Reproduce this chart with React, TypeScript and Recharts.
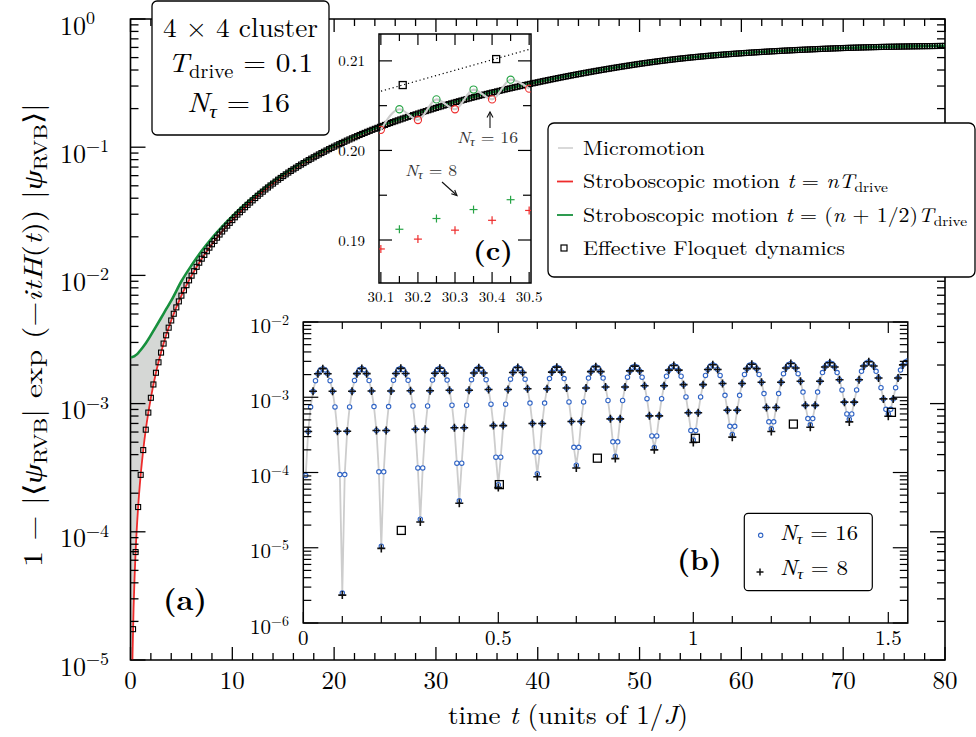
import React from 'react';
import { ComposedChart, Line, Area, Scatter, XAxis, YAxis, ReferenceArea } from 'recharts';

const FONT = "'Latin Modern Roman','CMU Serif','Liberation Serif','Times New Roman',serif";
const RED = '#ee2b2b';
const GREEN = '#17903d';
const GREEN_C = '#27a446';
const BLUE = '#2f63c4';
const GRAY_LINE = '#cdcdcd';
const GRAY_FILL = '#d5d7d5';

// ---------------- main panel (a) data ----------------
const floquetTimes = [
  0.25,0.5,0.75,1,1.25,1.5,1.75,2,2.25,2.5,2.75,3,3.25,3.5,3.75,4,4.25,4.5,4.75,5,
  5.25,5.5,5.75,6,6.25,6.5,6.75,7,7.25,7.5,7.75,8,8.25,8.5,8.75,9,9.25,9.5,9.75,10,
  10.25,10.5,10.75,11,11.25,11.5,11.75,12,12.25,12.5,12.75,13,13.25,13.5,13.75,14,14.25,14.5,14.75,15,
  15.25,15.5,15.75,16,16.25,16.5,16.75,17,17.25,17.5,17.75,18,18.25,18.5,18.75,19,19.25,19.5,19.75,20,
  20.25,20.5,20.75,21,21.25,21.5,21.75,22,22.25,22.5,22.75,23,23.25,23.5,23.75,24,24.25,24.5,24.75,25,
  25.25,25.5,25.75,26,26.25,26.5,26.75,27,27.25,27.5,27.75,28,28.25,28.5,28.75,29,29.25,29.5,29.75,30,
  30.25,30.5,30.75,31,31.25,31.5,31.75,32,32.25,32.5,32.75,33,33.25,33.5,33.75,34,34.25,34.5,34.75,35,
  35.25,35.5,35.75,36,36.25,36.5,36.75,37,37.25,37.5,37.75,38,38.25,38.5,38.75,39,39.25,39.5,39.75,40,
  40.25,40.5,40.75,41,41.25,41.5,41.75,42,42.25,42.5,42.75,43,43.25,43.5,43.75,44,44.25,44.5,44.75,45,
  45.25,45.5,45.75,46,46.25,46.5,46.75,47,47.25,47.5,47.75,48,48.25,48.5,48.75,49,49.25,49.5,49.75,50,
  50.25,50.5,50.75,51,51.25,51.5,51.75,52,52.25,52.5,52.75,53,53.25,53.5,53.75,54,54.25,54.5,54.75,55,
  55.25,55.5,55.75,56,56.25,56.5,56.75,57,57.25,57.5,57.75,58,58.25,58.5,58.75,59,59.25,59.5,59.75,60,
  60.25,60.5,60.75,61,61.25,61.5,61.75,62,62.25,62.5,62.75,63,63.25,63.5,63.75,64,64.25,64.5,64.75,65,
  65.25,65.5,65.75,66,66.25,66.5,66.75,67,67.25,67.5,67.75,68,68.25,68.5,68.75,69,69.25,69.5,69.75,70,
  70.25,70.5,70.75,71,71.25,71.5,71.75,72,72.25,72.5,72.75,73,73.25,73.5,73.75,74,74.25,74.5,74.75,75,
  75.25,75.5,75.75,76,76.25,76.5,76.75,77,77.25,77.5,77.75,78,78.25,78.5,78.75,79,79.25,79.5,79.75,80,
];
const floquetValues = [
  1.74e-5,6.95e-5,1.56e-4,2.78e-4,4.34e-4,6.26e-4,8.51e-4,1.11e-3,1.41e-3,1.74e-3,2.10e-3,2.50e-3,2.94e-3,3.41e-3,3.91e-3,4.45e-3,5.02e-3,5.63e-3,6.27e-3,6.95e-3,
  7.65e-3,8.39e-3,9.15e-3,9.95e-3,1.079e-2,1.166e-2,1.256e-2,1.35e-2,1.445e-2,1.544e-2,1.646e-2,1.75e-2,1.858e-2,1.969e-2,2.083e-2,2.2e-2,2.32e-2,2.444e-2,2.57e-2,2.7e-2,
  0.0284,0.0298,0.0311,0.0325,0.0340,0.0355,0.0370,0.0385,0.0401,0.0418,0.0434,0.0450,0.0468,0.0485,0.0503,0.0520,0.0539,0.0558,0.0576,0.0595,
  0.0614,0.0634,0.0653,0.0672,0.0692,0.0712,0.0732,0.0752,0.0773,0.0794,0.0814,0.0835,0.0857,0.0878,0.0900,0.0921,0.0943,0.0966,0.0988,0.1010,
  0.1033,0.1056,0.1079,0.1102,0.1126,0.1149,0.1173,0.1196,0.1220,0.1245,0.1269,0.1293,0.1318,0.1342,0.1367,0.1391,0.1416,0.1442,0.1467,0.1492,
  0.1518,0.1543,0.1569,0.1594,0.1620,0.1646,0.1672,0.1698,0.1725,0.1751,0.1778,0.1804,0.1831,0.1859,0.1886,0.1913,0.1941,0.1969,0.1997,0.2025,
  0.2054,0.2082,0.2111,0.2139,0.2168,0.2197,0.2225,0.2254,0.2283,0.2312,0.2341,0.2370,0.2399,0.2429,0.2458,0.2487,0.2517,0.2546,0.2576,0.2605,
  0.2635,0.2665,0.2694,0.2724,0.2754,0.2784,0.2814,0.2844,0.2874,0.2905,0.2935,0.2965,0.2996,0.3026,0.3057,0.3087,0.3118,0.3149,0.3179,0.3210,
  0.3242,0.3273,0.3305,0.3336,0.3368,0.3400,0.3431,0.3463,0.3495,0.3527,0.3558,0.3590,0.3622,0.3654,0.3685,0.3717,0.3749,0.3781,0.3812,0.3844,
  0.3876,0.3907,0.3939,0.3970,0.4002,0.4033,0.4065,0.4096,0.4127,0.4159,0.4190,0.4221,0.4252,0.4283,0.4314,0.4345,0.4376,0.4407,0.4437,0.4468,
  0.4498,0.4527,0.4557,0.4586,0.4614,0.4643,0.4671,0.4699,0.4726,0.4753,0.4780,0.4807,0.4833,0.4858,0.4884,0.4909,0.4933,0.4957,0.4981,0.5005,
  0.5028,0.5050,0.5073,0.5095,0.5116,0.5138,0.5159,0.5180,0.5200,0.5220,0.5240,0.5260,0.5279,0.5298,0.5316,0.5335,0.5353,0.5370,0.5388,0.5405,
  0.5422,0.5438,0.5455,0.5471,0.5487,0.5503,0.5518,0.5534,0.5549,0.5564,0.5579,0.5594,0.5608,0.5623,0.5637,0.5651,0.5665,0.5678,0.5692,0.5705,
  0.5718,0.5731,0.5743,0.5756,0.5768,0.5780,0.5792,0.5804,0.5816,0.5827,0.5839,0.5850,0.5861,0.5872,0.5883,0.5894,0.5905,0.5915,0.5926,0.5936,
  0.5945,0.5954,0.5963,0.5972,0.5980,0.5988,0.5996,0.6004,0.6011,0.6019,0.6026,0.6033,0.6040,0.6046,0.6053,0.6059,0.6065,0.6071,0.6076,0.6082,
  0.6087,0.6093,0.6098,0.6103,0.6108,0.6113,0.6117,0.6122,0.6126,0.6131,0.6135,0.6139,0.6143,0.6147,0.6151,0.6155,0.6159,0.6163,0.6166,0.6170,
];

const envTimes = [0.02,0.05,0.1,0.15,0.2,0.3,0.4,0.5,0.75,1,1.25,1.5,2,2.5,3,3.5,4,5,6,7,8,9,10,12,14,16,18,20,25,30,35,40,45,50,55,60,65,70,75,80];
const stroboNT = [1.1e-7,6.9e-7,2.75e-6,6.2e-6,1.1e-5,2.5e-5,4.4e-5,6.95e-5,1.56e-4,2.78e-4,4.34e-4,6.26e-4,1.11e-3,1.74e-3,2.5e-3,3.41e-3,4.45e-3,6.95e-3,9.95e-3,1.35e-2,1.75e-2,2.2e-2,2.7e-2,3.85e-2,5.2e-2,6.72e-2,8.35e-2,0.101,0.1492,0.2025,0.2605,0.321,0.3844,0.4468,0.5005,0.5405,0.5705,0.5936,0.6082,0.617];
const stroboHalf = [2.3e-3,2.3e-3,2.3e-3,2.31e-3,2.31e-3,2.33e-3,2.35e-3,2.38e-3,2.48e-3,2.62e-3,2.78e-3,2.96e-3,3.42e-3,3.98e-3,4.65e-3,5.45e-3,6.35e-3,9.0e-3,1.2e-2,1.555e-2,1.955e-2,2.4e-2,2.9e-2,4.05e-2,5.4e-2,6.91e-2,8.53e-2,0.1028,0.151,0.2043,0.262,0.3223,0.3855,0.4477,0.5012,0.5411,0.571,0.594,0.6085,0.6173];

const mainXTicks = [0,2,4,6,8,10,12,14,16,18,20,22,24,26,28,30,32,34,36,38,40,42,44,46,48,50,52,54,56,58,60,62,64,66,68,70,72,74,76,78,80];
const mainYTicks = [
  1e-5,2e-5,3e-5,4e-5,5e-5,6e-5,7e-5,8e-5,9e-5,
  1e-4,2e-4,3e-4,4e-4,5e-4,6e-4,7e-4,8e-4,9e-4,
  1e-3,2e-3,3e-3,4e-3,5e-3,6e-3,7e-3,8e-3,9e-3,
  1e-2,2e-2,3e-2,4e-2,5e-2,6e-2,7e-2,8e-2,9e-2,
  0.1,0.2,0.3,0.4,0.5,0.6,0.7,0.8,0.9,1,
];

// ---------------- inset (b) data ----------------
const bCircleTimes = [
  0.00625,0.0125,0.01875,0.025,0.03125,0.0375,0.04375,0.05,0.05625,0.0625,0.06875,0.075,0.08125,0.0875,0.09375,
  0.1,0.10625,0.1125,0.11875,0.125,0.13125,0.1375,0.14375,0.15,0.15625,0.1625,0.16875,0.175,0.18125,0.1875,0.19375,
  0.2,0.20625,0.2125,0.21875,0.225,0.23125,0.2375,0.24375,0.25,0.25625,0.2625,0.26875,0.275,0.28125,0.2875,0.29375,
  0.3,0.30625,0.3125,0.31875,0.325,0.33125,0.3375,0.34375,0.35,0.35625,0.3625,0.36875,0.375,0.38125,0.3875,0.39375,
  0.4,0.40625,0.4125,0.41875,0.425,0.43125,0.4375,0.44375,0.45,0.45625,0.4625,0.46875,0.475,0.48125,0.4875,0.49375,
  0.5,0.50625,0.5125,0.51875,0.525,0.53125,0.5375,0.54375,0.55,0.55625,0.5625,0.56875,0.575,0.58125,0.5875,0.59375,
  0.6,0.60625,0.6125,0.61875,0.625,0.63125,0.6375,0.64375,0.65,0.65625,0.6625,0.66875,0.675,0.68125,0.6875,0.69375,
  0.7,0.70625,0.7125,0.71875,0.725,0.73125,0.7375,0.74375,0.75,0.75625,0.7625,0.76875,0.775,0.78125,0.7875,0.79375,
  0.8,0.80625,0.8125,0.81875,0.825,0.83125,0.8375,0.84375,0.85,0.85625,0.8625,0.86875,0.875,0.88125,0.8875,0.89375,
  0.9,0.90625,0.9125,0.91875,0.925,0.93125,0.9375,0.94375,0.95,0.95625,0.9625,0.96875,0.975,0.98125,0.9875,0.99375,
  1,1.00625,1.0125,1.01875,1.025,1.03125,1.0375,1.04375,1.05,1.05625,1.0625,1.06875,1.075,1.08125,1.0875,1.09375,
  1.1,1.10625,1.1125,1.11875,1.125,1.13125,1.1375,1.14375,1.15,1.15625,1.1625,1.16875,1.175,1.18125,1.1875,1.19375,
  1.2,1.20625,1.2125,1.21875,1.225,1.23125,1.2375,1.24375,1.25,1.25625,1.2625,1.26875,1.275,1.28125,1.2875,1.29375,
  1.3,1.30625,1.3125,1.31875,1.325,1.33125,1.3375,1.34375,1.35,1.35625,1.3625,1.36875,1.375,1.38125,1.3875,1.39375,
  1.4,1.40625,1.4125,1.41875,1.425,1.43125,1.4375,1.44375,1.45,1.45625,1.4625,1.46875,1.475,1.48125,1.4875,1.49375,
  1.5,1.50625,1.5125,1.51875,1.525,1.53125,1.5375,1.54375,1.55,
];
const bCircleValues = [
  9.1e-5,3.51e-4,7.41e-4,1.20e-3,1.66e-3,2.05e-3,2.31e-3,2.40e-3,2.31e-3,2.05e-3,1.66e-3,1.20e-3,7.44e-4,3.54e-4,9.39e-5,
  2.5e-6,9.39e-5,3.54e-4,7.44e-4,1.20e-3,1.67e-3,2.06e-3,2.32e-3,2.41e-3,2.32e-3,2.06e-3,1.67e-3,1.21e-3,7.52e-4,3.62e-4,1.02e-4,
  1.05e-5,1.02e-4,3.62e-4,7.52e-4,1.21e-3,1.68e-3,2.07e-3,2.33e-3,2.42e-3,2.33e-3,2.07e-3,1.68e-3,1.22e-3,7.65e-4,3.75e-4,1.15e-4,
  2.4e-5,1.15e-4,3.75e-4,7.65e-4,1.22e-3,1.69e-3,2.08e-3,2.34e-3,2.43e-3,2.34e-3,2.08e-3,1.69e-3,1.24e-3,7.83e-4,3.93e-4,1.33e-4,
  4.2e-5,1.33e-4,3.93e-4,7.83e-4,1.24e-3,1.71e-3,2.10e-3,2.36e-3,2.46e-3,2.36e-3,2.10e-3,1.71e-3,1.27e-3,8.10e-4,4.20e-4,1.60e-4,
  6.9e-5,1.60e-4,4.20e-4,8.10e-4,1.27e-3,1.74e-3,2.13e-3,2.39e-3,2.48e-3,2.39e-3,2.13e-3,1.74e-3,1.30e-3,8.37e-4,4.47e-4,1.87e-4,
  9.6e-5,1.87e-4,4.47e-4,8.37e-4,1.30e-3,1.77e-3,2.16e-3,2.42e-3,2.51e-3,2.42e-3,2.16e-3,1.77e-3,1.33e-3,8.66e-4,4.76e-4,2.16e-4,
  1.25e-4,2.16e-4,4.76e-4,8.66e-4,1.33e-3,1.80e-3,2.19e-3,2.45e-3,2.55e-3,2.45e-3,2.19e-3,1.80e-3,1.37e-3,9.06e-4,5.16e-4,2.56e-4,
  1.65e-4,2.56e-4,5.16e-4,9.06e-4,1.37e-3,1.85e-3,2.24e-3,2.50e-3,2.59e-3,2.50e-3,2.24e-3,1.85e-3,1.42e-3,9.56e-4,5.66e-4,3.06e-4,
  2.15e-4,3.06e-4,5.66e-4,9.56e-4,1.42e-3,1.90e-3,2.29e-3,2.55e-3,2.64e-3,2.55e-3,2.29e-3,1.90e-3,1.47e-3,1.01e-3,6.21e-4,3.61e-4,
  2.7e-4,3.61e-4,6.21e-4,1.01e-3,1.47e-3,1.95e-3,2.34e-3,2.60e-3,2.70e-3,2.60e-3,2.34e-3,1.95e-3,1.52e-3,1.06e-3,6.71e-4,4.11e-4,
  3.2e-4,4.11e-4,6.71e-4,1.06e-3,1.52e-3,2.01e-3,2.40e-3,2.66e-3,2.75e-3,2.66e-3,2.40e-3,2.01e-3,1.58e-3,1.12e-3,7.31e-4,4.71e-4,
  3.8e-4,4.71e-4,7.31e-4,1.12e-3,1.58e-3,2.06e-3,2.45e-3,2.71e-3,2.81e-3,2.71e-3,2.45e-3,2.06e-3,1.63e-3,1.17e-3,7.81e-4,5.21e-4,
  4.3e-4,5.21e-4,7.81e-4,1.17e-3,1.63e-3,2.13e-3,2.52e-3,2.78e-3,2.87e-3,2.78e-3,2.52e-3,2.13e-3,1.71e-3,1.25e-3,8.61e-4,6.01e-4,
  5.1e-4,6.01e-4,8.61e-4,1.25e-3,1.71e-3,2.21e-3,2.60e-3,2.86e-3,2.96e-3,2.86e-3,2.60e-3,2.21e-3,1.80e-3,1.34e-3,9.51e-4,6.91e-4,
  6.0e-4,6.91e-4,9.51e-4,1.34e-3,1.80e-3,2.30e-3,2.69e-3,2.95e-3,3.05e-3,
];
const bCrossTimes = [
  0.0125,0.025,0.0375,0.05,0.0625,0.075,0.0875,
  0.1,0.1125,0.125,0.1375,0.15,0.1625,0.175,0.1875,
  0.2,0.2125,0.225,0.2375,0.25,0.2625,0.275,0.2875,
  0.3,0.3125,0.325,0.3375,0.35,0.3625,0.375,0.3875,
  0.4,0.4125,0.425,0.4375,0.45,0.4625,0.475,0.4875,
  0.5,0.5125,0.525,0.5375,0.55,0.5625,0.575,0.5875,
  0.6,0.6125,0.625,0.6375,0.65,0.6625,0.675,0.6875,
  0.7,0.7125,0.725,0.7375,0.75,0.7625,0.775,0.7875,
  0.8,0.8125,0.825,0.8375,0.85,0.8625,0.875,0.8875,
  0.9,0.9125,0.925,0.9375,0.95,0.9625,0.975,0.9875,
  1,1.0125,1.025,1.0375,1.05,1.0625,1.075,1.0875,
  1.1,1.1125,1.125,1.1375,1.15,1.1625,1.175,1.1875,
  1.2,1.2125,1.225,1.2375,1.25,1.2625,1.275,1.2875,
  1.3,1.3125,1.325,1.3375,1.35,1.3625,1.375,1.3875,
  1.4,1.4125,1.425,1.4375,1.45,1.4625,1.475,1.4875,
  1.5,1.5125,1.525,1.5375,1.55,
];
const bCrossValues = [
  3.51e-4,1.20e-3,2.05e-3,2.40e-3,2.05e-3,1.20e-3,3.54e-4,
  2.35e-6,3.54e-4,1.20e-3,2.06e-3,2.41e-3,2.06e-3,1.21e-3,3.62e-4,
  9.8e-6,3.62e-4,1.21e-3,2.07e-3,2.42e-3,2.07e-3,1.22e-3,3.75e-4,
  2.2e-5,3.75e-4,1.22e-3,2.08e-3,2.43e-3,2.08e-3,1.24e-3,3.93e-4,
  3.9e-5,3.93e-4,1.24e-3,2.10e-3,2.46e-3,2.10e-3,1.27e-3,4.20e-4,
  6.3e-5,4.20e-4,1.27e-3,2.13e-3,2.48e-3,2.13e-3,1.30e-3,4.47e-4,
  8.8e-5,4.47e-4,1.30e-3,2.16e-3,2.51e-3,2.16e-3,1.33e-3,4.76e-4,
  1.15e-4,4.76e-4,1.33e-3,2.19e-3,2.55e-3,2.19e-3,1.37e-3,5.16e-4,
  1.53e-4,5.16e-4,1.37e-3,2.24e-3,2.59e-3,2.24e-3,1.42e-3,5.66e-4,
  2.0e-4,5.66e-4,1.42e-3,2.29e-3,2.64e-3,2.29e-3,1.47e-3,6.21e-4,
  2.5e-4,6.21e-4,1.47e-3,2.34e-3,2.70e-3,2.34e-3,1.52e-3,6.71e-4,
  2.95e-4,6.71e-4,1.52e-3,2.40e-3,2.75e-3,2.40e-3,1.58e-3,7.31e-4,
  3.5e-4,7.31e-4,1.58e-3,2.45e-3,2.81e-3,2.45e-3,1.63e-3,7.81e-4,
  4.0e-4,7.81e-4,1.63e-3,2.52e-3,2.87e-3,2.52e-3,1.71e-3,8.61e-4,
  4.7e-4,8.61e-4,1.71e-3,2.60e-3,2.96e-3,2.60e-3,1.80e-3,9.51e-4,
  5.6e-4,9.51e-4,1.80e-3,2.69e-3,3.05e-3,
];
const bFloquetTimes = [0.2513,0.5027,0.754,1.0053,1.2566,1.508];
const bFloquetValues = [1.7e-5,6.9e-5,1.55e-4,2.85e-4,4.4e-4,6.3e-4];
const bXTicks = [0,0.1,0.2,0.3,0.4,0.5,0.6,0.7,0.8,0.9,1,1.1,1.2,1.3,1.4,1.5];
const bYTicks = [
  1e-6,2e-6,3e-6,4e-6,5e-6,6e-6,7e-6,8e-6,9e-6,
  1e-5,2e-5,3e-5,4e-5,5e-5,6e-5,7e-5,8e-5,9e-5,
  1e-4,2e-4,3e-4,4e-4,5e-4,6e-4,7e-4,8e-4,9e-4,
  1e-3,2e-3,3e-3,4e-3,5e-3,6e-3,7e-3,8e-3,9e-3,1e-2,
];

// ---------------- inset (c) data ----------------
const cRed16T = [30.1,30.2,30.3,30.4,30.5];
const cRed16V = [0.2023,0.2034,0.2046,0.2057,0.2069];
const cGreen16T = [30.15,30.25,30.35,30.45];
const cGreen16V = [0.2046,0.2057,0.2068,0.2079];
const cRed8T = [30.1,30.2,30.3,30.4,30.5];
const cRed8V = [0.1890,0.1901,0.1911,0.1922,0.1933];
const cGreen8T = [30.15,30.25,30.35,30.45];
const cGreen8V = [0.1912,0.1924,0.1934,0.1945];
const cFloquetT = [30.159,30.411];
const cFloquetV = [0.2073,0.2102];
const cFloquetLineT = [30.09,30.51];
const cFloquetLineV = [0.2065,0.2114];
const cXTicks = [30.1,30.15,30.2,30.25,30.3,30.35,30.4,30.45,30.5];
const cYTicks = [0.19,0.195,0.2,0.205,0.21];

// ---------------- helpers ----------------
const rows = (ts: number[], vs: number[]) => ts.map((t, i) => ({ t, v: vs[i] }));

const squareShape = (size: number, sw: number) => (p: any) => (
  <rect x={p.cx - size / 2} y={p.cy - size / 2} width={size} height={size} fill="none" stroke="#000" strokeWidth={sw} />
);
const circleShape = (r: number, color: string, fill: string, sw: number) => (p: any) => (
  <circle cx={p.cx} cy={p.cy} r={r} fill={fill} stroke={color} strokeWidth={sw} />
);
const plusShape = (size: number, color: string, sw: number) => (p: any) => (
  <g>
    <line x1={p.cx - size / 2} x2={p.cx + size / 2} y1={p.cy} y2={p.cy} stroke={color} strokeWidth={sw} />
    <line x1={p.cx} x2={p.cx} y1={p.cy - size / 2} y2={p.cy + size / 2} stroke={color} strokeWidth={sw} />
  </g>
);

type Box = { left: number; right: number; top: number; bottom: number };

const isPow10 = (v: number) => {
  const e = Math.log10(v);
  return Math.abs(e - Math.round(e)) < 1e-6;
};

function makeXTick(box: Box, isMajor: (v: number) => boolean, majLen: number, minLen: number, base: number, fs: number, fmt: (v: number) => string, sw: number) {
  return (props: any) => {
    const x = props.x;
    const v = props.payload.value;
    const major = isMajor(v);
    const len = major ? majLen : minLen;
    return (
      <g>
        <line x1={x} x2={x} y1={box.bottom} y2={box.bottom - len} stroke="#000" strokeWidth={sw} />
        <line x1={x} x2={x} y1={box.top} y2={box.top + len} stroke="#000" strokeWidth={sw} />
        {major ? (
          <text x={x} y={base} textAnchor="middle" fontSize={fs} fontFamily={FONT} fill="#000">{fmt(v)}</text>
        ) : null}
      </g>
    );
  };
}

function makeLogYTick(box: Box, majLen: number, minLen: number, labelX: number, baseOff: number, fs: number, supFs: number, supDy: number, sw: number) {
  return (props: any) => {
    const y = props.y;
    const v = props.payload.value;
    const major = isPow10(v);
    const len = major ? majLen : minLen;
    const e = Math.round(Math.log10(v));
    return (
      <g>
        <line x1={box.left} x2={box.left + len} y1={y} y2={y} stroke="#000" strokeWidth={sw} />
        <line x1={box.right} x2={box.right - len} y1={y} y2={y} stroke="#000" strokeWidth={sw} />
        {major ? (
          <text x={labelX} y={y + baseOff} fontSize={fs} fontFamily={FONT} fill="#000">
            10<tspan dy={supDy} fontSize={supFs}>{e === 0 ? '0' : '\u2212' + String(-e)}</tspan>
          </text>
        ) : null}
      </g>
    );
  };
}

// axes get a 1px band (an axis of zero size is not drawn)
const AX = 1;

// ---------------- main chart ----------------
const W = 976;
const H = 737;
const MAIN: Box = { left: 130.5, right: 945, top: 19, bottom: 660 };

function MainChart() {
  const env = envTimes.map((t, i) => ({ t, lo: stroboNT[i], hi: stroboHalf[i] }));
  const floq = rows(floquetTimes, floquetValues);
  const xTick = makeXTick(MAIN, (v) => v % 10 === 0, 13, 7, 689, 25, (v) => String(v), 1.3);
  const yTick = makeLogYTick(MAIN, 15, 8, 60, 15.5, 26, 18, -10.5, 1.3);
  return (
    <ComposedChart width={W} height={H} margin={{ left: MAIN.left - AX, right: W - MAIN.right, top: MAIN.top, bottom: H - MAIN.bottom - AX }}>
      <XAxis type="number" dataKey="t" domain={[0, 80]} ticks={mainXTicks} interval={0} allowDataOverflow height={AX} tickSize={0} tickMargin={0} axisLine={false} tickLine={false} tick={xTick} />
      <YAxis type="number" scale="log" domain={[1e-5, 1]} ticks={mainYTicks} interval={0} allowDataOverflow width={AX} tickSize={0} tickMargin={0} axisLine={false} tickLine={false} tick={yTick} />
      <Area data={env} dataKey={(d: any) => [d.lo, d.hi]} type="monotone" stroke="none" fill={GRAY_FILL} fillOpacity={1} dot={false} activeDot={false} isAnimationActive={false} />
      <Line data={env} dataKey="lo" type="monotone" stroke={RED} strokeWidth={1.8} dot={false} activeDot={false} isAnimationActive={false} />
      <Line data={env} dataKey="hi" type="monotone" stroke={GREEN} strokeWidth={2.6} dot={false} activeDot={false} isAnimationActive={false} />
      <Scatter data={floq} dataKey="v" shape={squareShape(5, 1.1)} isAnimationActive={false} />
      <ReferenceArea x1={0} x2={80} y1={1e-5} y2={1} fill="none" stroke="#000" strokeWidth={1.6} ifOverflow="visible" />
    </ComposedChart>
  );
}

// ---------------- inset (b) ----------------
const B_ORIGIN = { x: 220, y: 300 };
const B_W = 710;
const B_H = 360;
const B_BOX: Box = { left: 83.3, right: 687.8, top: 22, bottom: 323 };

function InsetB() {
  const circles = rows(bCircleTimes, bCircleValues);
  const crosses = rows(bCrossTimes, bCrossValues);
  const squares = rows(bFloquetTimes, bFloquetValues);
  const xTick = makeXTick(B_BOX, (v) => Math.abs(v * 2 - Math.round(v * 2)) < 1e-6, 11, 7, 345, 21, (v) => (v === 0 ? '0' : String(v)), 1.2);
  const yTick = makeLogYTick(B_BOX, 15, 8, 30, 10.5, 21, 14, -8, 1.2);
  return (
    <ComposedChart width={B_W} height={B_H} margin={{ left: B_BOX.left - AX, right: B_W - B_BOX.right, top: B_BOX.top, bottom: B_H - B_BOX.bottom - AX }}>
      <XAxis type="number" dataKey="t" domain={[0, 1.55]} ticks={bXTicks} interval={0} allowDataOverflow height={AX} tickSize={0} tickMargin={0} axisLine={false} tickLine={false} tick={xTick} />
      <YAxis type="number" scale="log" domain={[1e-6, 1e-2]} ticks={bYTicks} interval={0} allowDataOverflow width={AX} tickSize={0} tickMargin={0} axisLine={false} tickLine={false} tick={yTick} />
      <Line data={circles} dataKey="v" type="linear" stroke={GRAY_LINE} strokeWidth={1.8} dot={false} activeDot={false} isAnimationActive={false} />
      <Scatter data={circles} dataKey="v" shape={circleShape(2.2, BLUE, '#fff', 1.1)} isAnimationActive={false} />
      <Scatter data={crosses} dataKey="v" shape={plusShape(8, '#111', 1.6)} isAnimationActive={false} />
      <Scatter data={squares} dataKey="v" shape={squareShape(8, 1.3)} isAnimationActive={false} />
      <ReferenceArea x1={0} x2={1.55} y1={1e-6} y2={1e-2} fill="none" stroke="#000" strokeWidth={1.5} ifOverflow="visible" />
    </ComposedChart>
  );
}

// ---------------- inset (c) ----------------
const C_ORIGIN = { x: 320, y: 20 };
const C_W = 230;
const C_H = 300;
const C_BOX: Box = { left: 59, right: 211, top: 14, bottom: 263 };

function InsetC() {
  const red16 = rows(cRed16T, cRed16V);
  const green16 = rows(cGreen16T, cGreen16V);
  const micro = [...red16, ...green16].sort((a, b) => a.t - b.t);
  const red8 = rows(cRed8T, cRed8V);
  const green8 = rows(cGreen8T, cGreen8V);
  const floq = rows(cFloquetT, cFloquetV);
  const floqLine = rows(cFloquetLineT, cFloquetLineV);
  const xTick = makeXTick(C_BOX, (v) => Math.abs(v * 10 - Math.round(v * 10)) < 1e-6, 11, 7, 281.5, 15, (v) => v.toFixed(1), 1.2);
  const yTick = (props: any) => {
    const y = props.y;
    const v = props.payload.value;
    const major = Math.abs(v * 100 - Math.round(v * 100)) < 1e-6;
    const len = major ? 13 : 8;
    return (
      <g>
        <line x1={C_BOX.left} x2={C_BOX.left + len} y1={y} y2={y} stroke="#000" strokeWidth={1.2} />
        <line x1={C_BOX.right} x2={C_BOX.right - len} y1={y} y2={y} stroke="#000" strokeWidth={1.2} />
        {major ? (
          <text x={45} y={y + 5.5} textAnchor="end" fontSize={15} fontFamily={FONT} fill="#000">{v.toFixed(2)}</text>
        ) : null}
      </g>
    );
  };
  return (
    <ComposedChart width={C_W} height={C_H} margin={{ left: C_BOX.left - AX, right: C_W - C_BOX.right, top: C_BOX.top, bottom: C_H - C_BOX.bottom - AX }}>
      <XAxis type="number" dataKey="t" domain={[30.095, 30.505]} ticks={cXTicks} interval={0} allowDataOverflow height={AX} tickSize={0} tickMargin={0} axisLine={false} tickLine={false} tick={xTick} />
      <YAxis type="number" domain={[0.1852, 0.213]} ticks={cYTicks} interval={0} allowDataOverflow width={AX} tickSize={0} tickMargin={0} axisLine={false} tickLine={false} tick={yTick} />
      <Line data={floqLine} dataKey="v" type="linear" stroke="#000" strokeWidth={1.2} strokeDasharray="1.2 2.8" dot={false} activeDot={false} isAnimationActive={false} />
      <Line data={micro} dataKey="v" type="monotone" stroke={GRAY_LINE} strokeWidth={2.2} dot={false} activeDot={false} isAnimationActive={false} />
      <Scatter data={red16} dataKey="v" shape={circleShape(3.6, RED, 'none', 1.1)} isAnimationActive={false} />
      <Scatter data={green16} dataKey="v" shape={circleShape(3.6, GREEN_C, 'none', 1.1)} isAnimationActive={false} />
      <Scatter data={red8} dataKey="v" shape={plusShape(8, RED, 1.2)} isAnimationActive={false} />
      <Scatter data={green8} dataKey="v" shape={plusShape(8, GREEN_C, 1.2)} isAnimationActive={false} />
      <Scatter data={floq} dataKey="v" shape={squareShape(7, 1.3)} isAnimationActive={false} />
      <ReferenceArea x1={30.095} x2={30.505} y1={0.1852} y2={0.213} fill="none" stroke="#000" strokeWidth={1.5} ifOverflow="visible" />
    </ComposedChart>
  );
}

// ---------------- overlay (boxes, labels, titles) ----------------
function Overlay() {
  const it = { fontStyle: 'italic' as const };
  return (
    <svg width={W} height={H} style={{ position: 'absolute', left: 0, top: 0 }}>
      <g fontFamily={FONT} fill="#000">
        {/* parameter box */}
        <rect x={152} y={1} width={177} height={134} rx={5} ry={5} fill="#fff" stroke="#000" strokeWidth={1.3} />
        <text x={240.5} y={37} textAnchor="middle" fontSize={27} textLength={155} lengthAdjust="spacingAndGlyphs">4 × 4 cluster</text>
        <text x={240.5} y={72} textAnchor="middle" fontSize={27} textLength={145} lengthAdjust="spacingAndGlyphs">
          <tspan {...it}>T</tspan><tspan fontSize={19} dy={6}>drive</tspan><tspan dy={-6}>{' = 0.1'}</tspan>
        </text>
        <text x={238.5} y={112} textAnchor="middle" fontSize={27} textLength={103} lengthAdjust="spacingAndGlyphs">
          <tspan {...it}>N</tspan><tspan fontSize={19} dy={6} {...it}>τ</tspan><tspan dy={-6}>{' = 16'}</tspan>
        </text>

        {/* main legend */}
        <rect x={548} y={123} width={427} height={154} rx={6} ry={6} fill="#fff" stroke="#000" strokeWidth={1.3} />
        <line x1={558} x2={573} y1={148} y2={148} stroke={GRAY_LINE} strokeWidth={1.5} />
        <text x={583} y={155} fontSize={20} textLength={122} lengthAdjust="spacingAndGlyphs">Micromotion</text>
        <line x1={557} x2={573} y1={181.5} y2={181.5} stroke={RED} strokeWidth={1.8} />
        <text x={583} y={188} fontSize={20} textLength={305} lengthAdjust="spacingAndGlyphs">
          {'Stroboscopic motion '}<tspan {...it}>t</tspan>{' = '}<tspan {...it}>nT</tspan><tspan fontSize={14} dy={4}>drive</tspan>
        </text>
        <line x1={557} x2={573} y1={215} y2={215} stroke={GREEN} strokeWidth={1.8} />
        <text x={583} y={222} fontSize={20} textLength={384} lengthAdjust="spacingAndGlyphs">
          {'Stroboscopic motion '}<tspan {...it}>t</tspan>{' = ('}<tspan {...it}>n</tspan>{' + 1/2)'}<tspan {...it}>T</tspan><tspan fontSize={14} dy={4}>drive</tspan>
        </text>
        <rect x={561} y={245} width={6} height={6} fill="none" stroke="#000" strokeWidth={1.2} />
        <text x={583} y={255} fontSize={20} textLength={262} lengthAdjust="spacingAndGlyphs">Effective Floquet dynamics</text>

        {/* panel labels */}
        <text x={163} y={610} fontSize={29} fontWeight="bold" textLength={44} lengthAdjust="spacingAndGlyphs">(a)</text>
        <text x={677} y={570} fontSize={29} fontWeight="bold" textLength={45} lengthAdjust="spacingAndGlyphs">(b)</text>
        <text x={473} y={260} fontSize={27} fontWeight="bold" textLength={40} lengthAdjust="spacingAndGlyphs">(c)</text>

        {/* axis titles */}
        <text x={568} y={724} textAnchor="middle" fontSize={26} textLength={240} lengthAdjust="spacingAndGlyphs">
          {'time '}<tspan {...it}>t</tspan>{' (units of 1/'}<tspan {...it}>J</tspan>{')'}
        </text>
        <text transform="translate(42,335) rotate(-90)" textAnchor="middle" fontSize={26} textLength={464} lengthAdjust="spacingAndGlyphs">
          {'1 − |⟨'}<tspan {...it}>ψ</tspan><tspan fontSize={18} dy={5}>RVB</tspan><tspan dy={-5}>{'| exp (−'}</tspan><tspan {...it}>itH</tspan>{'('}<tspan {...it}>t</tspan>{')) |'}<tspan {...it}>ψ</tspan><tspan fontSize={18} dy={5}>RVB</tspan><tspan dy={-5}>{'⟩|'}</tspan>
        </text>

        {/* inset (b) legend */}
        <rect x={744.3} y={513.3} width={128} height={77.4} rx={4} ry={4} fill="#fff" stroke="#000" strokeWidth={1.2} />
        <circle cx={760.7} cy={535.3} r={2.2} fill="#fff" stroke={BLUE} strokeWidth={1.1} />
        <text x={780} y={540} fontSize={21} textLength={78} lengthAdjust="spacingAndGlyphs">
          <tspan {...it}>N</tspan><tspan fontSize={15} dy={4} {...it}>τ</tspan><tspan dy={-4}>{' = 16'}</tspan>
        </text>
        <line x1={756.5} x2={763.5} y1={572} y2={572} stroke="#111" strokeWidth={1.5} />
        <line x1={760} x2={760} y1={568.5} y2={575.5} stroke="#111" strokeWidth={1.5} />
        <text x={780} y={575} fontSize={21} textLength={68} lengthAdjust="spacingAndGlyphs">
          <tspan {...it}>N</tspan><tspan fontSize={15} dy={4} {...it}>τ</tspan><tspan dy={-4}>{' = 8'}</tspan>
        </text>

        {/* inset (c) annotations */}
        <g fill="#333">
          <text x={457} y={143} fontSize={16} textLength={61} lengthAdjust="spacingAndGlyphs">
            <tspan {...it}>N</tspan><tspan fontSize={12} dy={3} {...it}>τ</tspan><tspan dy={-3}>{' = 16'}</tspan>
          </text>
          <text x={405} y={176} fontSize={16} textLength={52} lengthAdjust="spacingAndGlyphs">
            <tspan {...it}>N</tspan><tspan fontSize={12} dy={3} {...it}>τ</tspan><tspan dy={-3}>{' = 8'}</tspan>
          </text>
        </g>
        <g stroke="#111" strokeWidth={1.1} fill="none">
          <line x1={490} y1={128} x2={490} y2={112} />
          <polyline points="487,117.5 490,112 493,117.5" />
          <line x1={442} y1={182} x2={457} y2={195.5} />
          <polyline points="451.3,193.7 457,195.5 454.7,190" />
        </g>
      </g>
    </svg>
  );
}

export default function App() {
  return (
    <div style={{ position: 'absolute', left: 0, top: 0, width: W, height: H, background: '#fff', overflow: 'hidden' }}>
      <div style={{ position: 'absolute', left: 0, top: 0 }}>
        <MainChart />
      </div>
      <div style={{ position: 'absolute', left: C_ORIGIN.x, top: C_ORIGIN.y }}>
        <InsetC />
      </div>
      <div style={{ position: 'absolute', left: B_ORIGIN.x, top: B_ORIGIN.y }}>
        <InsetB />
      </div>
      <Overlay />
    </div>
  );
}
